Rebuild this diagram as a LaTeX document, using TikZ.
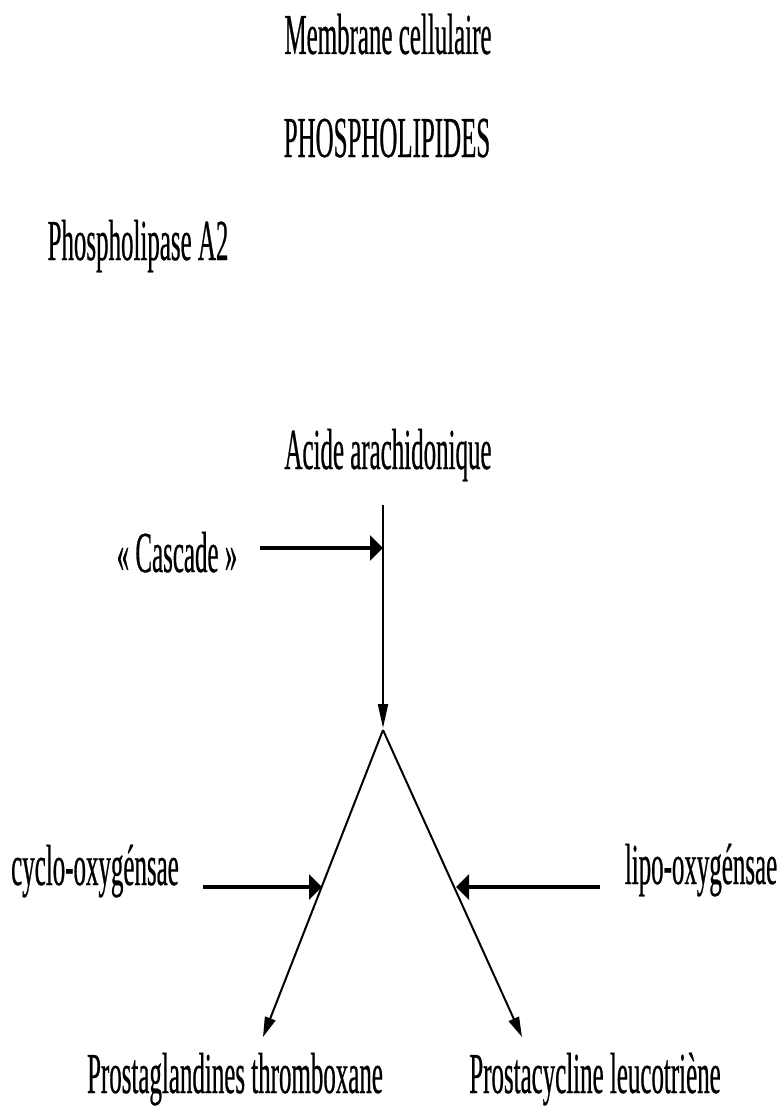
\documentclass[tikz,border=0pt]{standalone}
\usepackage{fontspec}
\setmainfont{Liberation Serif}
\newfontfamily\narrowfont[FakeStretch=0.43,FakeBold=0.4]{Liberation Serif}
\usetikzlibrary{arrows.meta}
\begin{document}
\begin{tikzpicture}[x=1pt,y=-1pt,
  txt/.style={font=\narrowfont\fontsize{58}{62}\selectfont, inner sep=0pt, anchor=base, text=black},
  thinline/.style={line width=2pt},
  vhead/.style={thinline, -{Triangle[length=24pt,width=10pt]}},
  dhead/.style={thinline, -{Triangle[length=20pt,width=11pt]}},
  thickarrow/.style={line width=4pt, -{Triangle[length=13pt,width=25pt]}},
]
\useasboundingbox (0,0) rectangle (779,1108);

\node[txt] (membrane) at (388,54) {Membrane cellulaire};
\node[txt] (phospho) at (387,157) {PHOSPHOLIPIDES};
\node[txt] (pla2) at (138,260) {Phospholipase A2};
\node[txt] (acide) at (388,469) {Acide arachidonique};
\node[txt] (cascade) at (177,572) {« Cascade »};
\node[txt] (cox) at (95,885) {cyclo-oxygénsae};
\node[txt] (lox) at (701,884) {lipo-oxygénsae};
\node[txt] (pg) at (235,1093) {Prostaglandines thromboxane};
\node[txt] (pc) at (595,1093) {Prostacycline leucotriène};

\coordinate (vtop) at (383,505);
\coordinate (vtip) at (383,728);
\coordinate (apex) at (383,730);
\coordinate (ltip) at (263,1037);
\coordinate (rtip) at (522,1037);
\coordinate (cascstart) at (260,548);
\coordinate (casctip) at (383,548);
\coordinate (coxstart) at (203,887);
\coordinate (coxtip) at (322,887);
\coordinate (loxstart) at (600,887);
\coordinate (loxtip) at (456,887);

\draw[vhead] (vtop) -- (vtip);
\draw[dhead] (apex) -- (ltip);
\draw[dhead] (apex) -- (rtip);
\draw[thickarrow] (cascstart) -- (casctip);
\draw[thickarrow] (coxstart) -- (coxtip);
\draw[thickarrow] (loxstart) -- (loxtip);
\end{tikzpicture}
\end{document}
